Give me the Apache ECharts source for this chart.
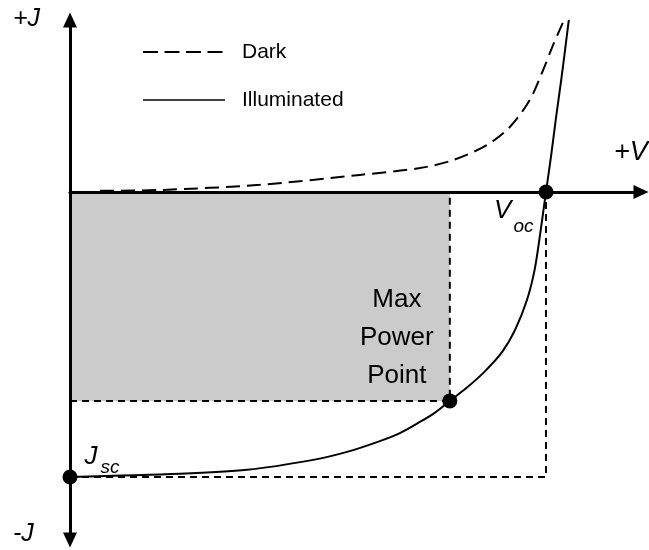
<!DOCTYPE html>
<html>
<head>
<meta charset="utf-8">
<script src="https://cdn.jsdelivr.net/npm/echarts@6/dist/echarts.min.js"></script>
<style>
  html, body { margin: 0; padding: 0; background: #ffffff; }
  #chart { width: 649px; height: 550px; }
</style>
</head>
<body>
<div id="chart"></div>
<script>
// Solar cell J–V characteristic (normalised: Voc = 1, Jsc = -1)

// Dark (unilluminated) diode curve
const darkV = [0.063, 0.189, 0.399, 0.609, 0.735, 0.805, 0.876, 0.924, 0.966, 0.994, 1.015, 1.038];
const darkJ = [0.004, 0.007, 0.025, 0.060, 0.084, 0.112, 0.165, 0.228, 0.323, 0.428, 0.516, 0.604];

// Illuminated curve
const illumV = [0, 0.231, 0.372, 0.511, 0.582, 0.651, 0.693, 0.735, 0.767, 0.798, 0.832, 0.870, 0.908, 0.935, 0.960, 0.976, 0.986, 1.0, 1.011, 1.021, 1.032, 1.040, 1.048];
const illumJ = [-1.0, -0.989, -0.975, -0.940, -0.912, -0.874, -0.846, -0.807, -0.774, -0.733, -0.689, -0.632, -0.561, -0.484, -0.379, -0.274, -0.168, 0, 0.130, 0.260, 0.393, 0.498, 0.604];

// Key operating points
const jsc = -1.0;
const voc = 1.0;
const mppV = 0.798;
const mppJ = -0.733;

// Axis extents (the arrow heads sit just beyond these)
const vMin = 0, vMax = 1.1996;
const jMin = -1.2211, jMax = 0.6035;

const FONT = 'Liberation Sans, Arial, sans-serif';
const pair = (xs, ys) => xs.map((x, i) => [x, ys[i]]);

const chart = echarts.init(document.getElementById('chart'), null, { renderer: 'canvas' });

chart.setOption({
  animation: false,
  backgroundColor: '#ffffff',
  textStyle: { fontFamily: FONT, color: '#000' },
  grid: { left: 70, right: 8, top: 20, bottom: 10, containLabel: false },
  xAxis: {
    type: 'value', min: vMin, max: vMax, z: 3,
    axisLine: { onZero: true, symbol: ['none', 'triangle'], symbolSize: [14, 15],
                lineStyle: { color: '#000', width: 3 } },
    axisTick: { show: false }, axisLabel: { show: false }, splitLine: { show: false }
  },
  yAxis: {
    type: 'value', min: jMin, max: jMax, z: 3,
    axisLine: { onZero: true, symbol: ['triangle', 'triangle'], symbolSize: [14, 15],
                lineStyle: { color: '#000', width: 3 } },
    axisTick: { show: false }, axisLabel: { show: false }, splitLine: { show: false }
  },
  legend: {
    orient: 'vertical', left: 137, top: 35,
    itemWidth: 82, itemHeight: 24, itemGap: 24,
    itemStyle: { color: 'rgba(0,0,0,0)', borderWidth: 0, opacity: 0 },
    textStyle: { fontFamily: FONT, fontSize: 21, color: '#000', lineHeight: 24, padding: [0, 0, 0, 12] },
    data: [
      { name: 'Dark', lineStyle: { type: [15, 6.5], width: 2, color: '#000' } },
      { name: 'Illuminated', lineStyle: { width: 1.5, color: '#000' } }
    ]
  },
  graphic: [
    { type: 'text', left: 13, top: 7, style: { text: '+J', font: 'italic 25px ' + FONT, fill: '#000' } },
    { type: 'text', left: 13, top: 522, style: { text: '-J', font: 'italic 25px ' + FONT, fill: '#000' } },
    { type: 'text', left: 614, top: 139, style: { text: '+V', font: 'italic 27px ' + FONT, fill: '#000' } }
  ],
  series: [
    {
      name: 'mppBox', type: 'line', z: 2, symbol: 'none', silent: true,
      data: [[0, mppJ], [mppV, mppJ], [mppV, 0]],
      lineStyle: { color: '#000', width: 2, type: [7, 5] },
      markArea: {
        silent: true,
        itemStyle: { color: '#cbcbcb', opacity: 1 },
        data: [[{ coord: [0, mppJ] }, { coord: [mppV, 0] }]]
      }
    },
    {
      name: 'scBox', type: 'line', z: 2, symbol: 'none', silent: true,
      data: [[0, jsc], [voc, jsc], [voc, 0]],
      lineStyle: { color: '#000', width: 2, type: [7, 5] }
    },
    {
      name: 'Dark', type: 'line', z: 4, symbol: 'none', smooth: 0.3, clip: false,
      data: pair(darkV, darkJ),
      lineStyle: { color: '#000', width: 2, type: [14, 7] },
      itemStyle: { color: '#000' }
    },
    {
      name: 'Illuminated', type: 'line', z: 4, symbol: 'none', smooth: 0.3, clip: false,
      data: pair(illumV, illumJ),
      lineStyle: { color: '#000', width: 2 },
      itemStyle: { color: '#000' }
    },
    {
      name: 'points', type: 'scatter', z: 6, symbolSize: 15,
      itemStyle: { color: '#000', opacity: 1 },
      label: { opacity: 1 },
      data: [
        {
          value: [0, jsc],
          label: {
            show: true, position: 'right', distance: 5, offset: [2, -20],
            formatter: '{a|J}{b|sc}', opacity: 1,
            rich: {
              a: { fontFamily: FONT, fontSize: 26, fontStyle: 'italic', color: '#000', lineHeight: 40 },
              b: { fontFamily: FONT, fontSize: 19, fontStyle: 'italic', color: '#000', lineHeight: 20,
                   verticalAlign: 'bottom', padding: [0, 0, 0, 3] }
            }
          }
        },
        {
          value: [voc, 0],
          label: {
            show: true, position: 'left', distance: 5, offset: [0, 19],
            formatter: '{a|V}{b|oc}', opacity: 1,
            rich: {
              a: { fontFamily: FONT, fontSize: 26, fontStyle: 'italic', color: '#000', lineHeight: 50 },
              b: { fontFamily: FONT, fontSize: 19, fontStyle: 'italic', color: '#000', lineHeight: 10,
                   verticalAlign: 'bottom', padding: [0, 0, 0, 2] }
            }
          }
        },
        {
          value: [mppV, mppJ],
          label: {
            show: true, position: 'inside', offset: [-53, -63], opacity: 1,
            formatter: 'Max\nPower\nPoint', align: 'center',
            fontFamily: FONT, fontSize: 26, lineHeight: 38, color: '#000'
          }
        }
      ]
    }
  ]
});
</script>
</body>
</html>
